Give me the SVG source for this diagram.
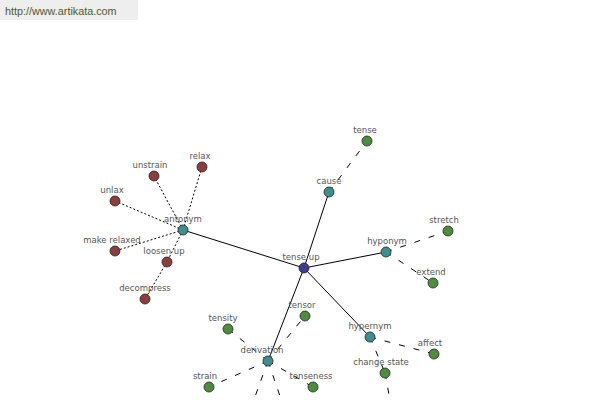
<svg xmlns="http://www.w3.org/2000/svg" width="600" height="400" viewBox="0 0 600 400">
<style>
.lbl{font-family:Tahoma,"DejaVu Sans","Liberation Sans",sans-serif;font-size:8.5px;fill:#555;text-anchor:middle}
.wm{font-family:"Liberation Sans",Arial,sans-serif;font-size:10.8px;fill:#4a5a2e}
.n{stroke:#222;stroke-width:0.8}
.teal{fill:#3f8d8d}.green{fill:#4f8c3f}.red{fill:#8c3d3d}.blue{fill:#3d3d8c}
.solid{stroke:#000;stroke-width:1;fill:none}
.dash{stroke:#000;stroke-width:1;fill:none;stroke-dasharray:6 9}
.dot{stroke:#000;stroke-width:1;fill:none;stroke-dasharray:2 2}
</style>
<rect width="600" height="400" fill="#fff"/>
<rect x="0" y="0" width="138" height="20" fill="#eeeeee"/>
<text class="wm" x="5" y="15">http://www.artikata.com</text>
<g id="connectors">
<line class="solid" x1="304" y1="268" x2="329" y2="192"/>
<line class="solid" x1="304" y1="268" x2="386" y2="252"/>
<line class="solid" x1="304" y1="268" x2="183" y2="230"/>
<line class="solid" x1="304" y1="268" x2="268" y2="361"/>
<line class="solid" x1="304" y1="268" x2="370" y2="337"/>
<line class="dash" x1="329" y1="192" x2="367" y2="141"/>
<line class="dash" x1="386" y1="252" x2="448" y2="231"/>
<line class="dash" x1="386" y1="252" x2="433" y2="283"/>
<line class="dot" x1="183" y1="230" x2="154" y2="176"/>
<line class="dot" x1="183" y1="230" x2="202" y2="167"/>
<line class="dot" x1="183" y1="230" x2="115" y2="201"/>
<line class="dot" x1="183" y1="230" x2="115" y2="251"/>
<line class="dot" x1="183" y1="230" x2="167" y2="262"/>
<line class="dot" x1="167" y1="262" x2="145" y2="299"/>
<line class="dash" x1="370" y1="337" x2="434" y2="354"/>
<line class="dash" x1="370" y1="337" x2="385" y2="373"/>
<line class="dash" x1="385" y1="373" x2="390" y2="400"/>
<line class="dash" x1="268" y1="361" x2="305" y2="316"/>
<line class="dash" x1="268" y1="361" x2="228" y2="329"/>
<line class="dash" x1="268" y1="361" x2="209" y2="387"/>
<line class="dash" x1="268" y1="361" x2="313" y2="387"/>
<line class="dash" x1="268" y1="361" x2="252" y2="405"/>
<line class="dash" x1="268" y1="361" x2="283" y2="405"/>
</g>
<g id="n-tenseup"><circle class="n blue" cx="304" cy="268" r="5"/><text class="lbl" x="301" y="260">tense up</text></g>
<g id="n-cause"><circle class="n teal" cx="329" cy="192" r="5"/><text class="lbl" x="329" y="184">cause</text></g>
<g id="n-tense"><circle class="n green" cx="367" cy="141" r="5"/><text class="lbl" x="365" y="133">tense</text></g>
<g id="n-hyponym"><circle class="n teal" cx="386" cy="252" r="5"/><text class="lbl" x="387" y="244">hyponym</text></g>
<g id="n-stretch"><circle class="n green" cx="448" cy="231" r="5"/><text class="lbl" x="444" y="223">stretch</text></g>
<g id="n-extend"><circle class="n green" cx="433" cy="283" r="5"/><text class="lbl" x="431" y="275">extend</text></g>
<g id="n-antonym"><circle class="n teal" cx="183" cy="230" r="5"/><text class="lbl" x="183" y="222">antonym</text></g>
<g id="n-unstrain"><circle class="n red" cx="154" cy="176" r="5"/><text class="lbl" x="150" y="168">unstrain</text></g>
<g id="n-relax"><circle class="n red" cx="202" cy="167" r="5"/><text class="lbl" x="200" y="159">relax</text></g>
<g id="n-unlax"><circle class="n red" cx="115" cy="201" r="5"/><text class="lbl" x="112" y="193">unlax</text></g>
<g id="n-makerelaxed"><circle class="n red" cx="115" cy="251" r="5"/><text class="lbl" x="112" y="243">make relaxed</text></g>
<g id="n-loosenup"><circle class="n red" cx="167" cy="262" r="5"/><text class="lbl" x="164" y="254">loosen up</text></g>
<g id="n-decompress"><circle class="n red" cx="145" cy="299" r="5"/><text class="lbl" x="145" y="291">decompress</text></g>
<g id="n-hypernym"><circle class="n teal" cx="370" cy="337" r="5"/><text class="lbl" x="370" y="329">hypernym</text></g>
<g id="n-affect"><circle class="n green" cx="434" cy="354" r="5"/><text class="lbl" x="430" y="346">affect</text></g>
<g id="n-changestate"><circle class="n green" cx="385" cy="373" r="5"/><text class="lbl" x="381" y="365">change state</text></g>
<g id="n-derivation"><circle class="n teal" cx="268" cy="361" r="5"/><text class="lbl" x="262" y="353">derivation</text></g>
<g id="n-tensor"><circle class="n green" cx="305" cy="316" r="5"/><text class="lbl" x="302" y="308">tensor</text></g>
<g id="n-tensity"><circle class="n green" cx="228" cy="329" r="5"/><text class="lbl" x="223" y="321">tensity</text></g>
<g id="n-strain"><circle class="n green" cx="209" cy="387" r="5"/><text class="lbl" x="205" y="379">strain</text></g>
<g id="n-tenseness"><circle class="n green" cx="313" cy="387" r="5"/><text class="lbl" x="311" y="379">tenseness</text></g>
</svg>
